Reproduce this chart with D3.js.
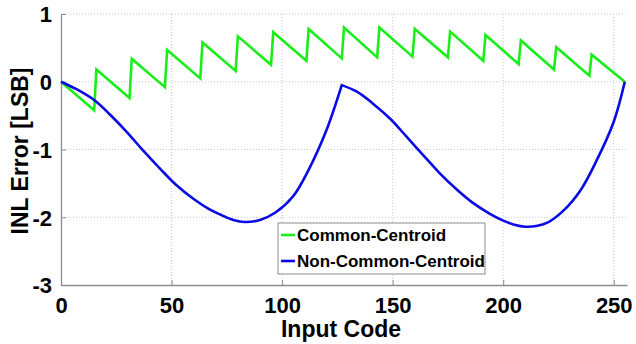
<!DOCTYPE html>
<html>
<head>
<meta charset="utf-8">
<script src="https://cdn.jsdelivr.net/npm/d3@7"></script>
<style>
  body { margin: 0; background: #fff; }
  svg { display: block; font-family: "Liberation Sans", Arial, sans-serif; }
</style>
</head>
<body>
<div id="chart"></div>
<script>
// Common-centroid: sawtooth, 16 segments of 16 codes
const segStarts = [0, 16, 32, 48, 64, 80, 96, 112, 128, 144, 160, 176, 192, 208, 224, 240];
const segStartValues = [0, 0.18, 0.34, 0.47, 0.58, 0.67, 0.73, 0.78, 0.80, 0.80, 0.78, 0.74, 0.69, 0.61, 0.51, 0.40];
const segEndValues = [-0.42, -0.24, -0.08, 0.05, 0.16, 0.25, 0.31, 0.345, 0.36, 0.37, 0.36, 0.31, 0.26, 0.18, 0.09, 0];

// Non-common-centroid: two arcs, cusp at code 127
const arc1Codes = [0, 7, 15, 22, 30, 37, 45, 52, 60, 67, 72, 78, 83, 90, 97, 105, 112, 120, 127];
const arc1Values = [0, -0.11, -0.27, -0.48, -0.75, -1.01, -1.29, -1.52, -1.73, -1.88, -1.96, -2.04, -2.07, -2.04, -1.93, -1.69, -1.30, -0.72, -0.05];
const arc2Codes = [127, 134, 141, 149, 156, 164, 171, 179, 186, 194, 200, 205, 210, 215, 220, 227, 235, 242, 250, 255];
const arc2Values = [-0.05, -0.15, -0.32, -0.55, -0.80, -1.09, -1.34, -1.59, -1.78, -1.95, -2.05, -2.11, -2.14, -2.13, -2.08, -1.91, -1.60, -1.18, -0.59, 0];

const xTicks = [0, 50, 100, 150, 200, 250];
const yTicks = [-3, -2, -1, 0, 1];
const seriesNames = ["Common-Centroid", "Non-Common-Centroid"];
const seriesColors = ["#1aee1a", "#0a0ae6"];

const W = 636, H = 344;
const margin = { top: 14, right: 9, bottom: 59, left: 61 };
const width = W - margin.left - margin.right;
const height = H - margin.top - margin.bottom;

const svg = d3.select("#chart").append("svg")
  .attr("width", W)
  .attr("height", H);

const g = svg.append("g")
  .attr("transform", `translate(${margin.left},${margin.top})`);

const x = d3.scaleLinear().domain([0, 256]).range([0, width]);
const y = d3.scaleLinear().domain([-3, 1]).range([height, 0]);

// Grid (dotted)
g.selectAll(".vgrid")
  .data(xTicks.filter(d => d > 0))
  .enter().append("line")
  .attr("x1", d => x(d)).attr("x2", d => x(d))
  .attr("y1", 0).attr("y2", height)
  .attr("stroke", "#c8c8c8")
  .attr("stroke-width", 1)
  .attr("stroke-dasharray", "1,2");

g.selectAll(".hgrid")
  .data(yTicks.filter(d => d > -3))
  .enter().append("line")
  .attr("x1", 0).attr("x2", width)
  .attr("y1", d => y(d)).attr("y2", d => y(d))
  .attr("stroke", "#c8c8c8")
  .attr("stroke-width", 1)
  .attr("stroke-dasharray", "1,2");

// Axes
const fmt = d => String(d);
const xAxis = d3.axisBottom(x).tickValues(xTicks).tickFormat(fmt).tickSizeInner(-5).tickSizeOuter(0).tickPadding(12);
const yAxis = d3.axisLeft(y).tickValues(yTicks).tickFormat(fmt).tickSizeInner(-5).tickSizeOuter(0).tickPadding(9);

const gx = g.append("g").attr("transform", `translate(0,${height})`).call(xAxis);
const gy = g.append("g").call(yAxis);

[gx, gy].forEach(a => {
  a.select(".domain").attr("stroke", "#8c8c8c").attr("stroke-width", 1.3);
  a.selectAll(".tick line").attr("stroke", "#8c8c8c");
  a.selectAll(".tick text")
    .attr("fill", "#000")
    .style("font-size", "22px")
    .style("font-weight", "bold")
    .style("font-family", "'Liberation Sans', Arial, sans-serif");
});
gx.selectAll(".tick text").attr("dy", "0.71em");
gy.selectAll(".tick text").attr("dy", "0.36em");

// Data lines
const line = d3.line().x(d => x(d[0])).y(d => y(d[1]));
const smooth = d3.line().x(d => x(d[0])).y(d => y(d[1])).curve(d3.curveCatmullRom.alpha(0.5));

const greenPts = [];
segStarts.forEach((s, i) => {
  greenPts.push([s, segStartValues[i]]);
  greenPts.push([s + 15, segEndValues[i]]);
});

const arc1 = arc1Codes.map((c, i) => [c, arc1Values[i]]);
const arc2 = arc2Codes.map((c, i) => [c, arc2Values[i]]);

g.append("path")
  .attr("d", line(greenPts))
  .attr("fill", "none")
  .attr("stroke", seriesColors[0])
  .attr("stroke-width", 2.6)
  .attr("stroke-linejoin", "miter");

// join the two arcs into one path with a sharp cusp at 127
g.append("path")
  .attr("d", smooth(arc1) + smooth(arc2).replace(/^M/, "L"))
  .attr("fill", "none")
  .attr("stroke", seriesColors[1])
  .attr("stroke-width", 2.6)
  .attr("stroke-linejoin", "miter");

// Axis titles
svg.append("text")
  .attr("x", margin.left + x(128) - 3)
  .attr("y", 337)
  .attr("text-anchor", "middle")
  .style("font-size", "23px")
  .style("font-weight", "bold")
  .text("Input Code");

svg.append("text")
  .attr("transform", `translate(28,151) rotate(-90)`)
  .attr("text-anchor", "middle")
  .style("font-size", "23px")
  .style("font-weight", "bold")
  .text("INL Error [LSB]");

// Legend
const legend = svg.append("g").attr("transform", "translate(278,223)");
legend.append("rect")
  .attr("width", 207)
  .attr("height", 51)
  .attr("fill", "#fff")
  .attr("stroke", "#8c8c8c")
  .attr("stroke-width", 1);

const items = legend.selectAll(".legend-item")
  .data(seriesNames)
  .enter().append("g")
  .attr("transform", (d, i) => `translate(0,${12 + i * 26})`);

items.append("line")
  .attr("x1", 3).attr("x2", 17)
  .attr("stroke", (d, i) => seriesColors[i])
  .attr("stroke-width", 2.6);

items.append("text")
  .attr("x", 19)
  .attr("dy", "0.36em")
  .style("font-size", "17px")
  .style("font-weight", "bold")
  .text(d => d);
</script>
</body>
</html>
